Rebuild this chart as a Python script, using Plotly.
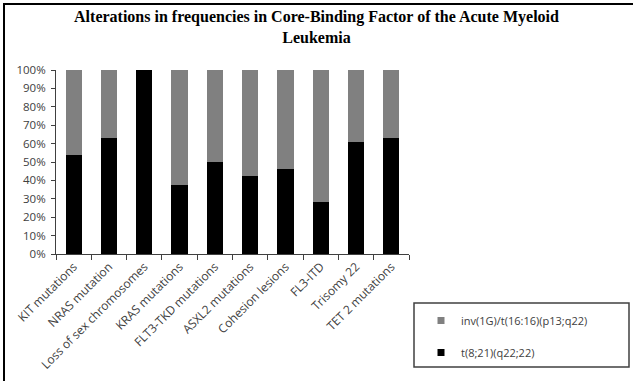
import plotly.graph_objects as go

# Core-binding-factor AML alterations, share by translocation subtype (%)
categories = [
    "KIT mutations",
    "NRAS mutation",
    "Loss of sex chromosomes",
    "KRAS mutations",
    "FLT3-TKD mutations",
    "ASXL2 mutations",
    "Cohesion lesions",
    "FL3-ITD",
    "Trisomy 22",
    "TET 2 mutations",
]
t821_pct = [54, 63, 100, 37.5, 50, 42.5, 46, 28.5, 61, 63]
inv16_pct = [46, 37, 0, 62.5, 50, 57.5, 54, 71.5, 39, 37]

series_names = ["t(8;21)(q22;22)", "inv(1G)/t(16:16)(p13;q22)"]
series_colors = ["#000000", "#808080"]
y_ticks = [0, 10, 20, 30, 40, 50, 60, 70, 80, 90, 100]
y_tick_labels = ["0%", "10%", "20%", "30%", "40%", "50%", "60%", "70%", "80%", "90%", "100%"]

W, H = 633, 381
L, R, T, B = 56, 224, 70, 127
pw, ph = W - L - R, H - T - B


def px_x(px):
    return (px - L) / pw


def px_y(py):
    return (H - B - py) / ph


fig = go.Figure()
for vals, name, color in zip([t821_pct, inv16_pct], series_names, series_colors):
    fig.add_trace(go.Bar(
        x=categories, y=vals, name=name,
        marker=dict(color=color, line=dict(width=0)),
        showlegend=False,
    ))

# legend entries with small square swatches, top entry first
for name, color in zip(series_names[::-1], series_colors[::-1]):
    fig.add_trace(go.Scatter(
        x=[None], y=[None], mode="markers", name=name, legendgroup=name,
        marker=dict(symbol="square", size=7, color=color),
    ))

axis_grey = "#404040"
fig.update_layout(
    width=W, height=H, autosize=False,
    margin=dict(l=L, r=R, t=T, b=B),
    barmode="stack", bargap=0.54,
    paper_bgcolor="white", plot_bgcolor="white",
    font=dict(family="Open Sans", size=11, color=axis_grey),
    title=dict(
        text="Alterations in frequencies in Core-Binding Factor of the Acute Myeloid<br>Leukemia",
        font=dict(family="Liberation Serif", size=16, color="black", weight="bold"),
        x=0.5, xanchor="center", xref="container",
        y=1 - 22 / H, yanchor="top", yref="container",
    ),
    xaxis=dict(
        type="category", tickangle=-45, tickson="boundaries", automargin=False,
        ticks="outside", ticklen=5, tickcolor=axis_grey,
        showline=True, linecolor=axis_grey, linewidth=1,
        showgrid=False, tickfont=dict(size=12, color=axis_grey),
    ),
    yaxis=dict(
        range=[0, 100], tickmode="array", tickvals=y_ticks, ticktext=y_tick_labels,
        automargin=False,
        ticks="outside", ticklen=4, tickcolor=axis_grey, ticklabelstandoff=3,
        showline=True, linecolor=axis_grey, linewidth=1,
        showgrid=False, zeroline=False,
        tickfont=dict(size=11.5, color=axis_grey),
    ),
    legend=dict(
        x=px_x(421), xanchor="left", y=px_y(306), yanchor="top",
        traceorder="grouped", tracegroupgap=13,
        bgcolor="rgba(0,0,0,0)", borderwidth=0,
        font=dict(family="Open Sans", size=11, color=axis_grey),
    ),
    shapes=[
        # frame round the whole chart
        dict(type="rect", xref="paper", yref="paper",
             x0=px_x(4), x1=px_x(W + 20), y0=px_y(H + 20), y1=px_y(4),
             line=dict(color="black", width=2), fillcolor="rgba(0,0,0,0)"),
        # legend box
        dict(type="rect", xref="paper", yref="paper",
             x0=px_x(414), x1=px_x(629), y0=px_y(367), y1=px_y(303),
             line=dict(color=axis_grey, width=1.5), fillcolor="rgba(0,0,0,0)"),
    ],
)

fig.write_html("out.html")
